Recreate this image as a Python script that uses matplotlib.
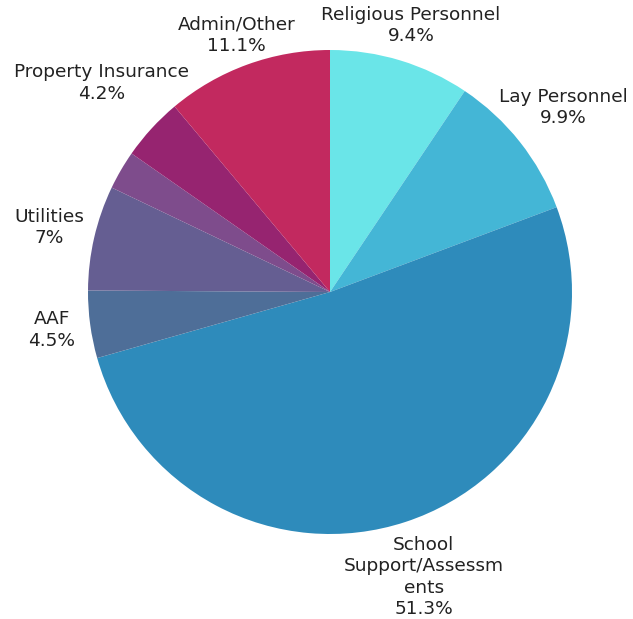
import numpy as np
import matplotlib
matplotlib.use("Agg")
from matplotlib import pyplot as plt

# slices, clockwise from 12 o'clock
labels = ["Religious Personnel", "Lay Personnel", "School\nSupport/Assessm\nents",
          "AAF", "Utilities", "", "Property Insurance", "Admin/Other"]
values = [9.4, 9.9, 51.3, 4.5, 7.0, 2.6, 4.2, 11.1]
pct_text = ["9.4%", "9.9%", "51.3%", "4.5%", "7%", "", "4.2%", "11.1%"]
colors = ["#6ae5e8", "#44b6d6", "#2e8bbb", "#4e6e98", "#655e92", "#7e4c8c",
          "#962470", "#c2295f"]
# how far out each label sits (in pie radii)
label_dist = [1.15, 1.23, 1.24, 1.16, 1.19, 1.0, 1.28, 1.13]

W, H = 633, 619
R = 242.0
cx, cy = 330, 292

fig = plt.figure(figsize=(W / 100, H / 100), dpi=100)
ax = fig.add_axes([0, 0, 1, 1])

wedges, _ = ax.pie(values, colors=colors, startangle=90, counterclock=False,
                   radius=1.0, wedgeprops=dict(linewidth=0))
ax.set_xlim(-cx / R, (W - cx) / R)
ax.set_ylim(-(H - cy) / R, cy / R)
ax.set_aspect("equal")
ax.axis("off")

for w, lab, pct, d in zip(wedges, labels, pct_text, label_dist):
    if not lab:
        continue
    ang = np.deg2rad((w.theta1 + w.theta2) / 2)
    ax.text(d * np.cos(ang), d * np.sin(ang), lab + "\n" + pct,
            ha="center", va="center", fontsize=13.3, color="#222222",
            linespacing=1.25)

fig.savefig("out.png", dpi=100)
